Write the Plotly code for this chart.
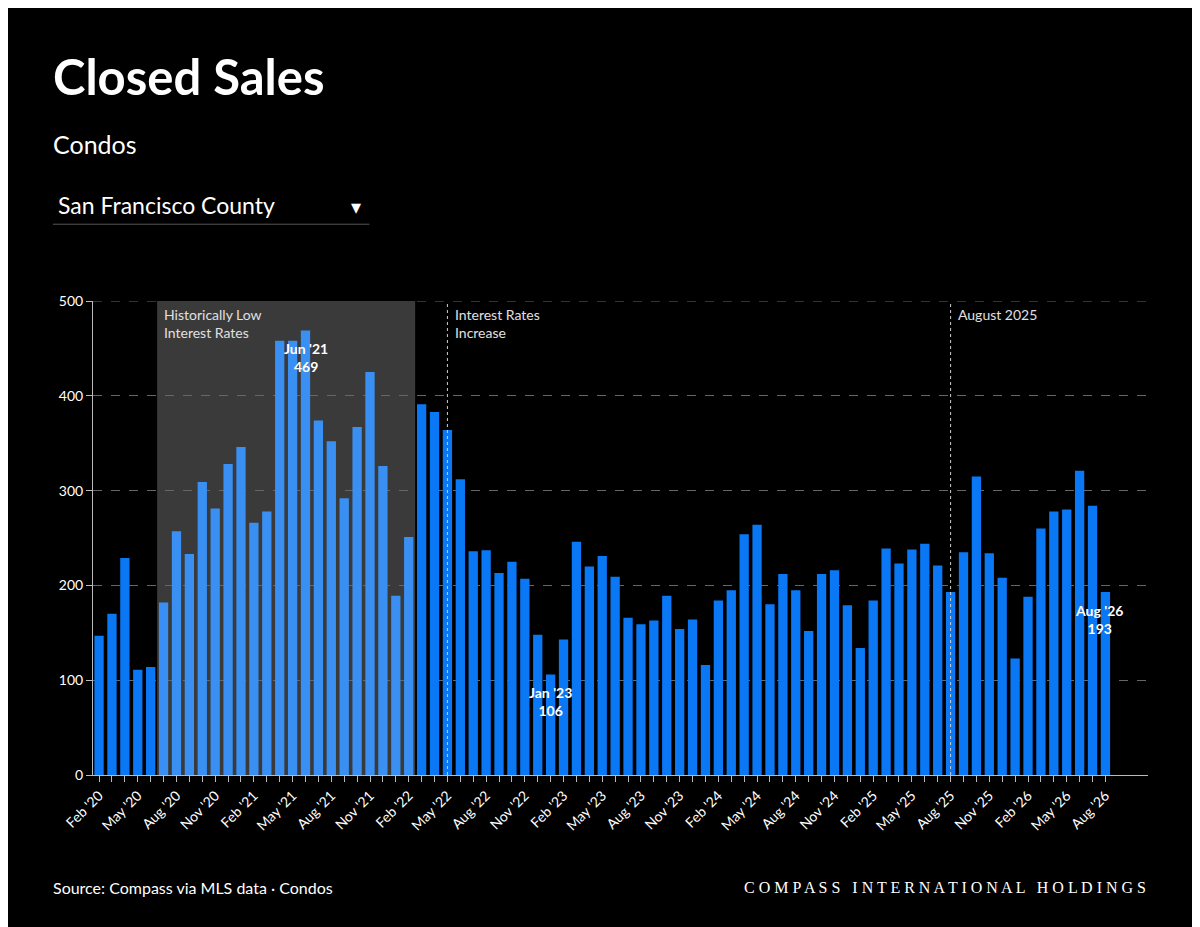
import plotly.graph_objects as go

# Monthly closed sales, Feb 2020 - Aug 2026
months = []
for y in range(2020, 2027):
    for m in ["Jan", "Feb", "Mar", "Apr", "May", "Jun", "Jul", "Aug", "Sep", "Oct", "Nov", "Dec"]:
        months.append(f"{m} '{str(y)[2:]}")
months = months[1:months.index("Aug '26") + 1]

sales = [147, 170, 229, 111, 114, 182, 257, 233, 309, 281, 328,
         346, 266, 278, 458, 458, 469, 374, 352, 292, 367, 425, 326,
         189, 251, 391, 383, 364, 312, 236, 237, 213, 225, 207, 148,
         106, 143, 246, 220, 231, 209, 166, 159, 163, 189, 154, 164,
         116, 184, 195, 254, 264, 180, 212, 195, 152, 212, 216, 179,
         134, 184, 239, 223, 238, 244, 221, 193, 235, 315, 234, 208,
         123, 188, 260, 278, 280, 321, 284, 193]

low_start, low_end = "Jul '20", "Feb '22"
rate_up = "May '22"
aug25 = "Aug '25"
callouts = ["Jun '21", "Jan '23", "Aug '26"]

x = list(range(len(months)))
i0, i1 = months.index(low_start), months.index(low_end)
colors = ["#3a90f2" if i0 <= i <= i1 else "#0a78f5" for i in x]

fig = go.Figure()
fig.add_trace(go.Bar(x=x, y=sales, marker=dict(color=colors, line_width=0),
                     width=0.72, hoverinfo="y"))

shapes = [
    dict(type="rect", xref="x", yref="y", x0=i0 - 0.5, x1=i1 + 0.5, y0=0, y1=500,
         fillcolor="#3a3a3a", line_width=0, layer="below"),
    dict(type="line", xref="paper", yref="y", x0=0, x1=1, y0=500, y1=500,
         line=dict(color="#666666", width=1, dash="dash"), layer="below"),
]
for lbl in [rate_up, aug25]:
    k = months.index(lbl)
    shapes.append(dict(type="line", xref="x", yref="y", x0=k, x1=k, y0=0, y1=500,
                       line=dict(color="#cfcfcf", width=1, dash="dot"), layer="above"))
# dropdown underline
shapes.append(dict(type="line", xref="paper", yref="paper", x0=-0.038, x1=0.262,
                   y0=1.162, y1=1.162, line=dict(color="#555", width=1)))

ann = []
ann.append(dict(xref="x", yref="y", x=i0 - 0.1, y=497, xanchor="left", yanchor="top",
                text="Historically Low<br>Interest Rates", showarrow=False, align="left",
                font=dict(size=14, color="#e0e0e0")))
ann.append(dict(xref="x", yref="y", x=months.index(rate_up) + 0.4, y=497, xanchor="left",
                yanchor="top", text="Interest Rates<br>Increase", showarrow=False, align="left",
                font=dict(size=14, color="#e0e0e0")))
ann.append(dict(xref="x", yref="y", x=months.index(aug25) + 0.4, y=497, xanchor="left",
                yanchor="top", text="August 2025", showarrow=False, align="left",
                font=dict(size=14, color="#e0e0e0")))
for c in callouts:
    k = months.index(c)
    ann.append(dict(xref="x", yref="y", x=k if c != "Aug '26" else k - 0.5, y=sales[k] - 8,
                    yanchor="top", text=f"<b>{c}<br>{sales[k]}</b>", showarrow=False,
                    font=dict(size=14, color="white"), align="center"))

# titles and footer
ann += [
    dict(xref="paper", yref="paper", x=-0.040, y=1.410, xanchor="left", yanchor="bottom",
         text="<b>Closed Sales</b>", showarrow=False, font=dict(size=49, color="white")),
    dict(xref="paper", yref="paper", x=-0.040, y=1.295, xanchor="left", yanchor="bottom",
         text="Condos", showarrow=False, font=dict(size=25, color="white")),
    dict(xref="paper", yref="paper", x=-0.035, y=1.168, xanchor="left", yanchor="bottom",
         text="San Francisco County", showarrow=False, font=dict(size=23, color="white")),
    dict(xref="paper", yref="paper", x=0.256, y=1.170, xanchor="right", yanchor="bottom",
         text="▾", showarrow=False, font=dict(size=20, color="white")),
    dict(xref="paper", yref="paper", x=-0.040, y=-0.237, xanchor="left", yanchor="middle",
         text="Source: Compass via MLS data · Condos", showarrow=False,
         font=dict(size=16, color="white")),
    dict(xref="paper", yref="paper", x=1.0, y=-0.237, xanchor="right", yanchor="middle",
         text="C O M P A S S   I N T E R N A T I O N A L   H O L D I N G S", showarrow=False,
         font=dict(size=16, color="white", family="Liberation Serif")),
]

tick_text = [m if i % 3 == 0 else "" for i, m in enumerate(months)]
fig.update_layout(
    width=1200, height=927, paper_bgcolor="black", plot_bgcolor="black",
    margin=dict(l=85, r=60, t=293, b=160),
    font=dict(family="Lato, Open Sans, sans-serif", color="white"),
    showlegend=False, shapes=shapes, annotations=ann, bargap=0.2,
    xaxis=dict(range=[-0.47, 81.3], tickmode="array", tickvals=x,
               ticktext=tick_text, tickangle=-45,
               tickfont=dict(size=14, color="white"), showgrid=False,
               showline=True, linecolor="#bbbbbb", ticks="outside", ticklen=6,
               tickcolor="#bbbbbb", zeroline=False),
    yaxis=dict(range=[0, 500], tickvals=[0, 100, 200, 300, 400, 500],
               tickfont=dict(size=14, color="white"), showgrid=True,
               gridcolor="#666666", griddash="dash", showline=True, linecolor="#bbbbbb",
               ticks="outside", ticklen=6, tickcolor="#bbbbbb", zeroline=False),
)

fig.write_html("out.html")
